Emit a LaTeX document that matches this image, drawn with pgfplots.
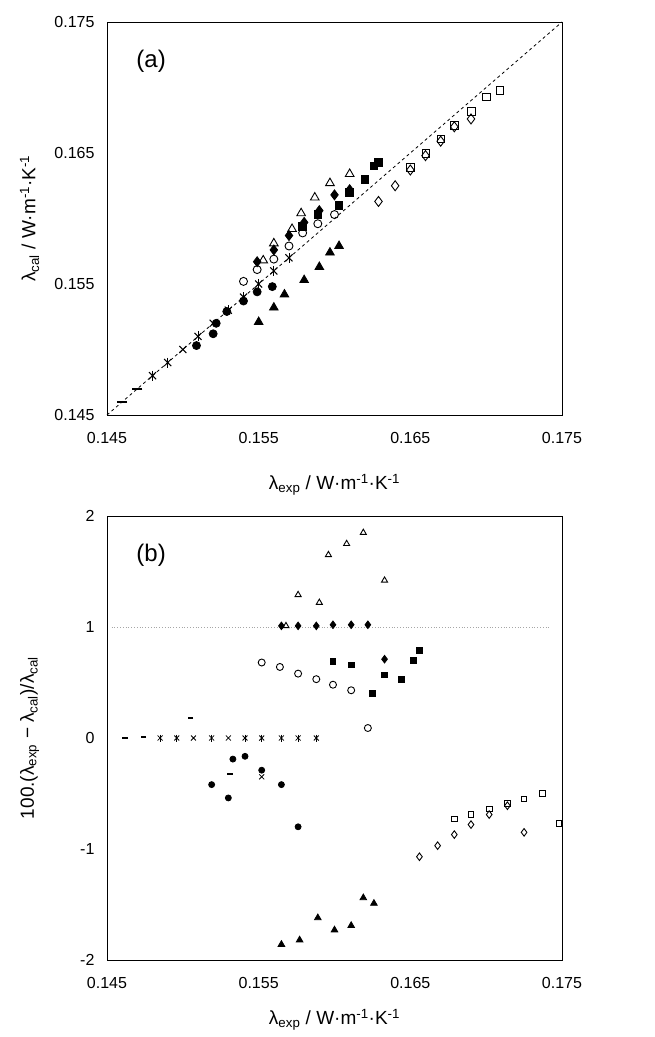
\documentclass[border=0pt]{standalone}
\usepackage{pgfplots}
\pgfplotsset{compat=1.18}
\usepackage{fontspec}
\setmainfont{Liberation Sans}

\pgfplotsset{
  every axis/.append style={
    scale only axis,
    axis line style={line width=0.9pt},
    tick style={draw=none},
    tick label style={font=\fontsize{16}{18}\selectfont},
    xticklabel style={yshift=-14pt},
    yticklabel style={xshift=-9pt},
    clip=false,
  },
  filled/.style={only marks, mark options={solid, draw=black, fill=black, line width=0.8pt}},
  hollow/.style={only marks, mark options={solid, draw=black, fill=white, line width=0.9pt}},
}

\begin{document}
\begin{tikzpicture}
\path[use as bounding box] (0pt,0pt) rectangle (655pt,1037pt);

% (a) parity plot
\begin{axis}[
  at={(107pt,622pt)}, anchor=south west,
  width=455pt, height=393pt,
  xmin=0.145, xmax=0.175, ymin=0.145, ymax=0.175,
  xtick={0.145,0.155,0.165,0.175}, xticklabels={0.145,0.155,0.165,0.175},
  ytick={0.145,0.155,0.165,0.175}, yticklabels={0.145,0.155,0.165,0.175},
  xlabel={λ\textsubscript{exp} / W·m\textsuperscript{-1}·K\textsuperscript{-1}},
  ylabel={λ\textsubscript{cal} / W·m\textsuperscript{-1}·K\textsuperscript{-1}},
  every axis x label/.style={at={(axis description cs:0.5,-0.178)}, anchor=center, font=\fontsize{19}{22}\selectfont},
  every axis y label/.style={at={(axis description cs:-0.17,0.5)}, anchor=center, rotate=90, font=\fontsize{19}{22}\selectfont},
  mark size=4pt,
]
\addplot[black, dashed, line width=0.8pt, dash pattern=on 3pt off 3pt] coordinates {(0.145,0.145) (0.175,0.175)};
\addplot[only marks, mark=-, mark size=5pt, mark options={line width=2.5pt}] coordinates {(0.146,0.146) (0.147,0.147)};
\addplot[only marks, mark=x, mark size=5pt, mark options={line width=1pt}] coordinates {
 (0.148,0.148) (0.149,0.149) (0.150,0.150) (0.151,0.151) (0.152,0.152)
 (0.153,0.153) (0.154,0.154) (0.155,0.155) (0.156,0.156) (0.157,0.157)};
\addplot[only marks, mark=|, mark size=5pt, mark options={line width=1pt}] coordinates {
 (0.148,0.148) (0.149,0.149) (0.151,0.151) (0.153,0.153) (0.154,0.154)
 (0.155,0.155) (0.156,0.156) (0.157,0.157)};
\addplot[filled, mark=*] coordinates {
 (0.1509,0.1503) (0.1520,0.1512) (0.1522,0.1520) (0.1529,0.1529) (0.1540,0.1537) (0.1549,0.1544) (0.1559,0.1548)};
\addplot[hollow, mark=o] coordinates {
 (0.1540,0.1552) (0.1549,0.1561) (0.1560,0.1569) (0.1570,0.1579) (0.1579,0.1589) (0.1589,0.1596) (0.1600,0.1603)};
\addplot[filled, mark=triangle*, mark size=5pt] coordinates {
 (0.1550,0.1521) (0.1560,0.1532) (0.1567,0.1542) (0.1580,0.1553) (0.1590,0.1563) (0.1597,0.1574) (0.1603,0.1579)};
\addplot[hollow, mark=triangle, mark size=5pt] coordinates {
 (0.1553,0.1568) (0.1560,0.1581) (0.1572,0.1592) (0.1578,0.1604) (0.1587,0.1616) (0.1597,0.1627) (0.1610,0.1634)};
\addplot[filled, mark=diamond*, mark size=5pt] coordinates {
 (0.1549,0.1567) (0.1560,0.1576) (0.1570,0.1587) (0.1580,0.1597) (0.1590,0.1606) (0.1600,0.1618) (0.1610,0.1622)};
\addplot[filled, mark=square*, mark size=3.8pt] coordinates {
 (0.1579,0.1594) (0.1589,0.1603) (0.1603,0.1610) (0.1610,0.1620) (0.1620,0.1630) (0.1626,0.1640) (0.1629,0.1643)};
\addplot[hollow, mark=diamond, mark size=5pt] coordinates {
 (0.1629,0.1613) (0.1640,0.1625) (0.1650,0.1637) (0.1660,0.1648) (0.1670,0.1659) (0.1679,0.1670) (0.1690,0.1676)};
\addplot[hollow, mark=square, mark size=3.8pt, mark options={fill=none}] coordinates {
 (0.1650,0.1639) (0.1660,0.1650) (0.1670,0.1661) (0.1679,0.1671) (0.1690,0.1682) (0.1700,0.1693) (0.1709,0.1698)};
\node[font=\fontsize{24}{26}\selectfont] at (rel axis cs:0.097,0.901) {(a)};
\end{axis}

% (b) deviations
\begin{axis}[
  at={(107pt,77pt)}, anchor=south west,
  width=455pt, height=444pt,
  xmin=0.145, xmax=0.175, ymin=-2, ymax=2,
  xtick={0.145,0.155,0.165,0.175}, xticklabels={0.145,0.155,0.165,0.175},
  ytick={-2,-1,0,1,2}, yticklabels={-2,-1,0,1,2},
  xlabel={λ\textsubscript{exp} / W·m\textsuperscript{-1}·K\textsuperscript{-1}},
  ylabel={100.(λ\textsubscript{exp} − λ\textsubscript{cal})/λ\textsubscript{cal}},
  every axis x label/.style={at={(axis description cs:0.5,-0.135)}, anchor=center, font=\fontsize{19}{22}\selectfont},
  every axis y label/.style={at={(axis description cs:-0.17,0.5)}, anchor=center, rotate=90, font=\fontsize{19}{22}\selectfont},
  mark size=3pt,
]
\addplot[gray!70, dotted, line width=0.8pt] coordinates {(0.1453,1) (0.1742,1)};
\addplot[only marks, mark=-, mark size=2.8pt, mark options={line width=2pt}] coordinates {
 (0.1462,0.00) (0.1474,0.01) (0.1505,0.18) (0.1531,-0.32)};
\addplot[only marks, mark=x, mark size=3.5pt, mark options={line width=0.8pt}] coordinates {
 (0.1485,0) (0.1496,0) (0.1507,0) (0.1519,0) (0.1530,0)
 (0.1541,0) (0.1552,0) (0.1565,0) (0.1576,0) (0.1588,0) (0.1552,-0.35)};
\addplot[only marks, mark=|, mark size=3.5pt, mark options={line width=0.8pt}] coordinates {
 (0.1485,0) (0.1496,0) (0.1519,0) (0.1541,0) (0.1552,0) (0.1565,0) (0.1576,0) (0.1588,0)};
\addplot[filled, mark=*] coordinates {
 (0.1519,-0.42) (0.1530,-0.54) (0.1533,-0.19) (0.1541,-0.165) (0.1552,-0.29) (0.1565,-0.42) (0.1576,-0.80)};
\addplot[hollow, mark=o, mark size=3.5pt] coordinates {
 (0.1552,0.68) (0.1564,0.64) (0.1576,0.58) (0.1588,0.53) (0.1599,0.48) (0.1611,0.43) (0.1622,0.09)};
\addplot[filled, mark=triangle*, mark size=3.8pt] coordinates {
 (0.1565,-1.86) (0.1577,-1.82) (0.1589,-1.62) (0.1600,-1.73) (0.1611,-1.69) (0.1619,-1.44) (0.1626,-1.49)};
\addplot[hollow, mark=triangle, mark size=3.5pt] coordinates {
 (0.1568,1.01) (0.1576,1.29) (0.1590,1.22) (0.1596,1.65) (0.1608,1.75) (0.1619,1.85) (0.1633,1.42)};
\addplot[filled, mark=diamond*, mark size=3.8pt] coordinates {
 (0.1565,1.01) (0.1576,1.01) (0.1588,1.01) (0.1599,1.02) (0.1611,1.02) (0.1622,1.02) (0.1633,0.71)};
\addplot[filled, mark=square*, mark size=2.8pt] coordinates {
 (0.1599,0.69) (0.1611,0.66) (0.1625,0.40) (0.1633,0.57) (0.1644,0.53) (0.1652,0.70) (0.1656,0.79)};
\addplot[hollow, mark=diamond, mark size=3.8pt] coordinates {
 (0.1656,-1.07) (0.1668,-0.97) (0.1679,-0.87) (0.1690,-0.78) (0.1702,-0.69) (0.1714,-0.61) (0.1725,-0.85)};
\addplot[hollow, mark=square, mark size=2.8pt] coordinates {
 (0.1679,-0.73) (0.1690,-0.69) (0.1702,-0.64) (0.1714,-0.59) (0.1725,-0.55) (0.1737,-0.50) (0.1748,-0.77)};
\node[font=\fontsize{24}{26}\selectfont] at (rel axis cs:0.097,0.912) {(b)};
\end{axis}
\end{tikzpicture}
\end{document}
